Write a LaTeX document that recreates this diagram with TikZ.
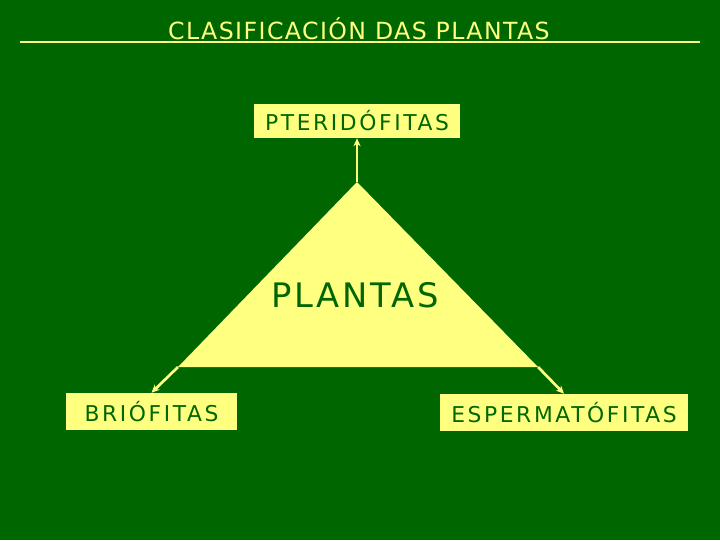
\documentclass[tikz,border=0pt]{standalone}
\usepackage{fontspec}
\setmainfont{DejaVu Sans}
\usetikzlibrary{arrows.meta, positioning, calc}
\definecolor{boardgreen}{HTML}{006600}
\definecolor{paleyellow}{HTML}{FFFF80}
\definecolor{inkgreen}{HTML}{006600}

\begin{document}
\begin{tikzpicture}[
  x=0.025cm, y=-0.025cm,
  groupbox/.style={fill=paleyellow, text=inkgreen, inner sep=0pt,
                   font=\addfontfeatures{LetterSpace=12}\fontsize{15.5}{18}\selectfont},
  arrbase/.style={-{Stealth[length=2mm, width=1.8mm]}, paleyellow, line width=1.9pt}
]
% Board background - fixes the page size
\fill[boardgreen] (0,0) rectangle (720,540);

% Title with its rule
\node[text=paleyellow, font=\addfontfeatures{LetterSpace=6}\fontsize{16.8}{20}\selectfont]
  (title) at (359,29) {CLASIFICACIÓN DAS PLANTAS};
\coordinate (ruleL) at (20,42);
\coordinate (ruleR) at (700,42);
\draw[paleyellow, line width=1.6pt] (ruleL) -- (ruleR);

% Central triangle
\coordinate (apex) at (357,182);
\coordinate (cornerL) at (178,367);
\coordinate (cornerR) at (538,367);
\fill[paleyellow] (apex) -- (cornerR) -- (cornerL) -- cycle;
\node[text=inkgreen, font=\addfontfeatures{LetterSpace=8}\fontsize{24}{28}\selectfont]
  (plantas) at (355,295) {PLANTAS};

% The three groups
\node[groupbox, minimum width=5.125cm, minimum height=0.85cm]
  (pter) at (357,121) {PTERIDÓFITAS};
\node[groupbox, minimum width=4.275cm, minimum height=0.925cm]
  (brio) at (151.5,411.5) {BRIÓFITAS};
\node[groupbox, minimum width=6.2cm, minimum height=0.925cm]
  (esper) at (564,412.5) {ESPERMATÓFITAS};

% Arrows from the triangle corners
\draw[arrbase] (apex) -- (pter.south);
\draw[arrbase] (cornerL) -- (brio.north);
\draw[arrbase] (cornerR) -- (esper.north);

\end{tikzpicture}
\end{document}
